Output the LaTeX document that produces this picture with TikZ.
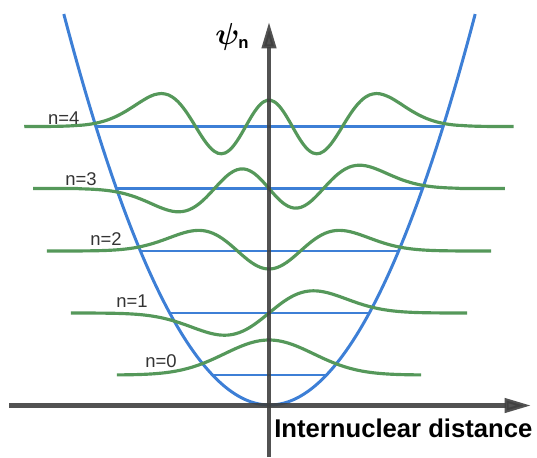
\documentclass[tikz,border=0pt]{standalone}
\usepackage{amsmath}
\usepackage{bm}
\usepackage{fontspec}
\setmainfont{Liberation Sans}
\usetikzlibrary{arrows.meta, positioning}

\definecolor{wellblue}{HTML}{3D7FD6}
\definecolor{wavegreen}{HTML}{55985A}
\definecolor{axisgray}{HTML}{3F3F3F}

\begin{document}
\begin{tikzpicture}[x=0.02cm, y=-0.02cm,
            well/.style={draw=wellblue, line width=1.7pt},
            level/.style={draw=wellblue, line width=1.3pt},
            wave/.style={draw=wavegreen, line width=1.8pt, samples=140, smooth},
            axis/.style={draw=axisgray, line width=2.3pt, opacity=0.9, -{Triangle[length=15pt, width=8pt]}},
            qnum/.style={anchor=base west, inner sep=0pt, text=black!80, font=\fontsize{10.5}{12}\selectfont}
        ]
        \useasboundingbox (0,0) rectangle (537,457);
        % Potential well
        \draw[well] plot[domain=-20.57:20.57, samples=100, smooth] ({269.5+10*\x}, {405-0.924*(\x)*(\x)});
        % Energy levels (ends on the well)
        \coordinate (l0a) at (212.5,375);   \coordinate (l0b) at (326.5,375);
        \coordinate (l1a) at (169.7,313);   \coordinate (l1b) at (369.3,313);
        \coordinate (l2a) at (140.4,251);   \coordinate (l2b) at (398.6,251);
        \coordinate (l3a) at (116.4,188.5); \coordinate (l3b) at (422.6,188.5);
        \coordinate (l4a) at (95.9,126.5);  \coordinate (l4b) at (443.1,126.5);
        \draw[level] (l0a) -- (l0b);
        \draw[level] (l1a) -- (l1b);
        \draw[level] (l2a) -- (l2b);
        \draw[level] (l3a) -- (l3b);
        \draw[level] (l4a) -- (l4b);
        % Wave functions
        \draw[wave] plot[domain=-3.42:3.42] ({269+44.5*\x}, {375-35*exp(-0.5*(\x)*(\x))});
        \draw[wave] plot[domain=-4.45:4.45] ({269+44.5*\x}, {313-18.3*2*(\x)*exp(-0.5*(\x)*(\x))});
        \draw[wave] plot[domain=-4.99:4.99] ({269+44.5*\x}, {251-9*(4*(\x)*(\x)-2)*exp(-0.5*(\x)*(\x))});
        \draw[wave] plot[domain=-5.3:5.3] ({269+44.5*\x}, {188.5-4.3*(8*(\x)*(\x)*(\x)-12*(\x))*exp(-0.5*(\x)*(\x))});
        \draw[wave] plot[domain=-5.5:5.5] ({269+44.5*\x}, {126.5-2.2*(16*((\x)*(\x)*exp(-0.25*(\x)*(\x)))^2-48*(\x)*(\x)*exp(-0.5*(\x)*(\x))+12*exp(-0.5*(\x)*(\x)))});
        % Axes
        \coordinate (xstart) at (9,405.5);
        \coordinate (xend) at (531,405.5);
        \coordinate (ystart) at (269,457);
        \coordinate (yend) at (269,22);
        \draw[axis] (xstart) -- (xend);
        \draw[axis] (ystart) -- (yend);
        % Labels
        \node[qnum] (n0) at (145,367) {n=0};
        \node[qnum] (n1) at (116,307) {n=1};
        \node[qnum] (n2) at (90,245) {n=2};
        \node[qnum] (n3) at (65,185) {n=3};
        \node[qnum] (n4) at (47.7,124) {n=4};
        \node[anchor=base west, inner sep=0pt, font=\fontsize{16}{19}\selectfont] (psi) at (215,44) {$\bm{\psi}_{\text{\fontsize{9.5}{10}\selectfont\bfseries n}}$};
        \node[anchor=base west, inner sep=0pt, font=\bfseries\fontsize{14.6}{17}\selectfont] (dist) at (274,437) {Internuclear distance};
        \end{tikzpicture}
\end{document}
